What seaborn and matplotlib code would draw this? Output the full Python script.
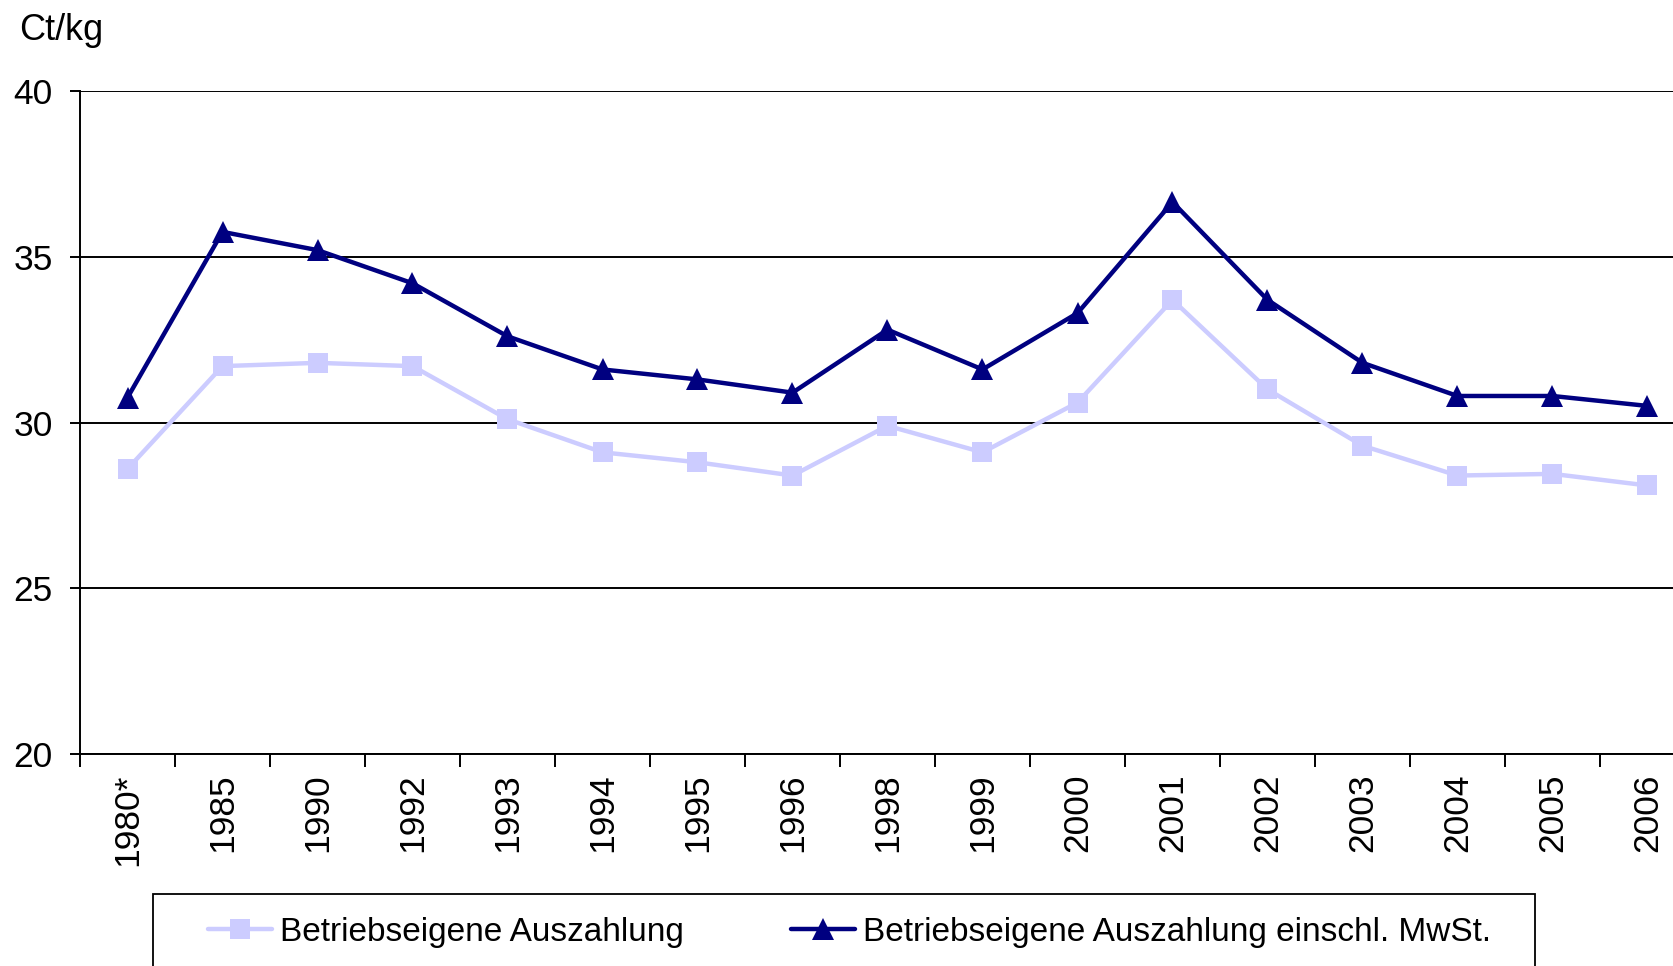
import numpy as np
import matplotlib.pyplot as plt
from matplotlib.patches import Rectangle
import seaborn as sns

# Auszahlungspreis in Ct/kg
years = ['1980*', '1985', '1990', '1992', '1993', '1994', '1995', '1996',
         '1998', '1999', '2000', '2001', '2002', '2003', '2004', '2005',
         '2006']
auszahlung = [28.6, 31.7, 31.8, 31.7, 30.1, 29.1, 28.8, 28.4, 29.9, 29.1,
              30.6, 33.7, 31.0, 29.3, 28.4, 28.45, 28.1]
auszahlung_mwst = [30.75, 35.75, 35.2, 34.2, 32.6, 31.6, 31.3, 30.9, 32.8,
                   31.6, 33.3, 36.65, 33.7, 31.8, 30.8, 30.8, 30.5]
y_ticks = [20, 25, 30, 35, 40]

label_1 = 'Betriebseigene Auszahlung'
label_2 = 'Betriebseigene Auszahlung einschl. MwSt.'

sns.set_style('white')
plt.rcParams['font.family'] = ['Liberation Sans', 'DejaVu Sans']
plt.rcParams['text.color'] = 'black'
plt.rcParams['xtick.color'] = 'black'
plt.rcParams['ytick.color'] = 'black'

W, H = 1674, 966
fig = plt.figure(figsize=(W / 100, H / 100), dpi=100)
ax = fig.add_axes([80 / W, 212 / H, 1615 / W, 663 / H])

sns.lineplot(x=years, y=auszahlung, ax=ax, sort=False, color='#ccccff',
             lw=3.2, marker='s', markersize=15, markeredgewidth=0,
             label=label_1, zorder=3)
sns.lineplot(x=years, y=auszahlung_mwst, ax=ax, sort=False, color='#000080',
             lw=3.2, marker='^', markersize=16, markeredgewidth=0,
             label=label_2, zorder=4)

ax.set_xlim(-0.5, 16.5)
ax.set_ylim(20, 40)
ax.set_yticks(y_ticks)
ax.set_xticks(range(len(years)))
ax.set_xticklabels(years, rotation=90, va='top')
ax.set_xticks(np.arange(-0.5, len(years), 1), minor=True)

ax.yaxis.grid(True, color='black', lw=1.4)
ax.set_axisbelow(True)
for side in ['top', 'right']:
    ax.spines[side].set_visible(False)
for side in ['left', 'bottom']:
    ax.spines[side].set_color('black')
    ax.spines[side].set_linewidth(1.4)

ax.tick_params(axis='x', which='major', length=0, pad=14, labelsize=25.5,
               labelcolor='black')
ax.tick_params(axis='x', which='minor', length=9.5, width=1.4,
               color='black', direction='out', bottom=True)
ax.tick_params(axis='y', length=7.5, width=1.4, color='black',
               direction='out', left=True, pad=12, labelsize=25.5,
               labelcolor='black')
ax.set_xlabel('')
ax.set_ylabel('')

fig.text(19 / W, 1 - 40 / H, 'Ct/kg', fontsize=26, va='baseline',
         ha='left', color='black')

handles, labels = ax.get_legend_handles_labels()
ax.legend_.remove()
leg = fig.legend(handles, labels, loc='center left', ncol=2, frameon=False,
                 bbox_to_anchor=(208 / W, 1 - 932 / H), borderpad=0,
                 borderaxespad=0, handlelength=1.92, handletextpad=0.24,
                 columnspacing=3.2, fontsize=24)
for t in leg.get_texts():
    t.set_color('black')
fig.patches.append(Rectangle((153 / W, -0.02), 1382 / W, 0.02 + 72 / H,
                             transform=fig.transFigure, fill=False,
                             edgecolor='black', lw=1.3))

fig.savefig('out.png', dpi=100)
